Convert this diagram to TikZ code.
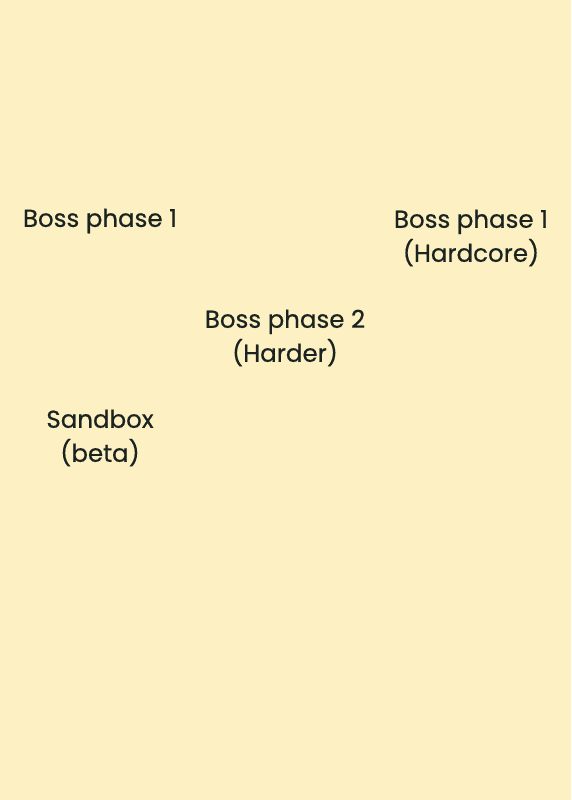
\documentclass[tikz,border=0pt]{standalone}
\usepackage{fontspec}
\setmainfont{Poppins}
\newfontfamily\labelfont{Poppins}[FakeBold=0.5]
\definecolor{paper}{RGB}{253,241,196}
\definecolor{ink}{RGB}{26,35,32}
\tikzset{label text/.style={text=ink,align=center,inner sep=0pt,font=\labelfont\fontsize{24.5}{34}\selectfont}}
\begin{document}
\begin{tikzpicture}[x=1pt,y=-1pt]
			\fill[paper] (0,0) rectangle (571,800);
			\node[label text] (bossone) at (100,221) {Boss phase 1};
			\node[label text] (bossonehc) at (471,238) {Boss phase 1\\(Hardcore)};
			\node[label text] (bosstwo) at (285,338) {Boss phase 2\\(Harder)};
			\node[label text] (sandbox) at (100,438) {Sandbox\\(beta)};
		\end{tikzpicture}
\end{document}
